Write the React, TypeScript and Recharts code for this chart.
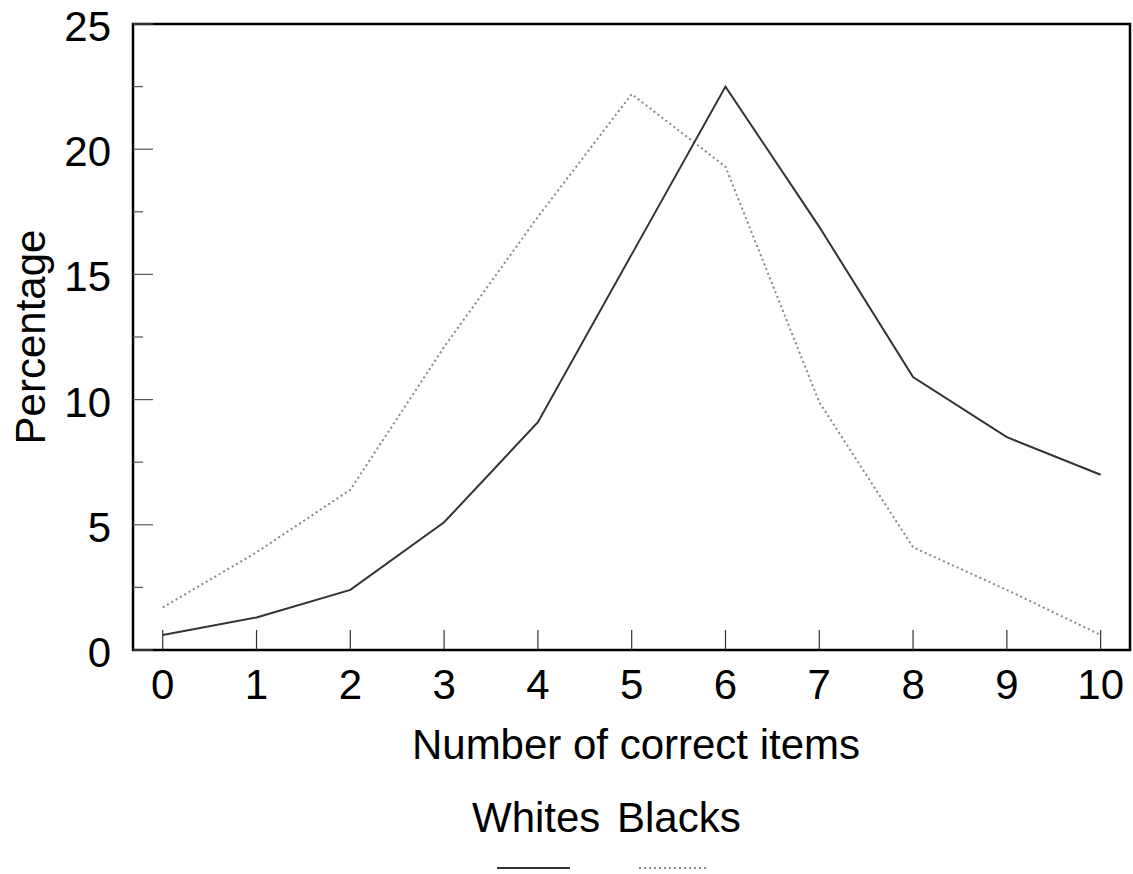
import { LineChart, Line, XAxis, YAxis, ReferenceArea, Customized } from 'recharts';

const correctItems = [0, 1, 2, 3, 4, 5, 6, 7, 8, 9, 10];
const whites = [0.6, 1.3, 2.4, 5.1, 9.1, 15.8, 22.5, 16.9, 10.9, 8.5, 7.0];
const blacks = [1.7, 3.9, 6.4, 12.1, 17.3, 22.2, 19.3, 9.9, 4.1, 2.4, 0.6];
const xTicks = [0, 1, 2, 3, 4, 5, 6, 7, 8, 9, 10];
const yTicks = [0, 2.5, 5, 7.5, 10, 12.5, 15, 17.5, 20, 22.5, 25];

const data = correctItems.map((n, i) => ({ n, whites: whites[i], blacks: blacks[i] }));

const FONT = '"Liberation Sans", Arial, sans-serif';
const W = 1133;
const H = 874;
// axes get 1px each (a 0px axis is not drawn at all)
const margin = { top: 24, right: 3, bottom: 223, left: 132 };

function XTick({ x, y, payload }: any) {
  return (
    <g>
      <line x1={x} x2={x} y1={y} y2={y - 20} stroke="#333" strokeWidth={1.2} />
      <text x={x} y={y + 49} textAnchor="middle" fontSize={42} fontFamily={FONT} fill="#000">
        {payload.value}
      </text>
    </g>
  );
}

function YTick({ x, y, payload }: any) {
  const major = payload.value % 5 === 0;
  return (
    <g>
      <line x1={x} x2={x + (major ? 20 : 10)} y1={y} y2={y} stroke="#555" strokeWidth={1.2} />
      {major && (
        <text x={x - 22} y={y + 17} textAnchor="end" fontSize={42} fontFamily={FONT} fill="#000">
          {payload.value}
        </text>
      )}
    </g>
  );
}

function Labels() {
  return (
    <g fontFamily={FONT} fill="#000" fontSize={42}>
      <text x={636} y={759} textAnchor="middle">Number of correct items</text>
      <text x={45} y={337} textAnchor="middle" transform="rotate(-90 45 337)">Percentage</text>
      <text x={472} y={832}>Whites</text>
      <text x={617} y={832}>Blacks</text>
      <line x1={497} x2={570} y1={868} y2={868} stroke="#333" strokeWidth={2} />
      <line x1={639} x2={709} y1={868} y2={868} stroke="#888" strokeWidth={2} strokeDasharray="2 3" />
    </g>
  );
}

export default function App() {
  return (
    <div style={{ position: 'absolute', left: 0, top: 0, width: W, height: H, background: '#fff' }}>
      <LineChart width={W} height={H} data={data} margin={margin}>
        <XAxis
          dataKey="n"
          type="number"
          domain={[-0.317, 10.313]}
          ticks={xTicks}
          height={1}
          tickSize={0}
          tickMargin={0}
          axisLine={false}
          tickLine={false}
          tick={<XTick />}
          interval={0}
          allowDataOverflow
        />
        <YAxis
          type="number"
          domain={[0, 25]}
          ticks={yTicks}
          width={1}
          tickSize={0}
          tickMargin={0}
          axisLine={false}
          tickLine={false}
          tick={<YTick />}
          interval={0}
        />
        <ReferenceArea
          x1={-0.317}
          x2={10.313}
          y1={0}
          y2={25}
          fill="none"
          stroke="#000"
          strokeWidth={2.5}
          ifOverflow="visible"
        />
        <Line
          dataKey="blacks"
          stroke="#888"
          strokeWidth={2}
          strokeDasharray="2 3"
          dot={false}
          isAnimationActive={false}
        />
        <Line dataKey="whites" stroke="#333" strokeWidth={2} dot={false} isAnimationActive={false} />
        <Customized component={<Labels />} />
      </LineChart>
    </div>
  );
}
